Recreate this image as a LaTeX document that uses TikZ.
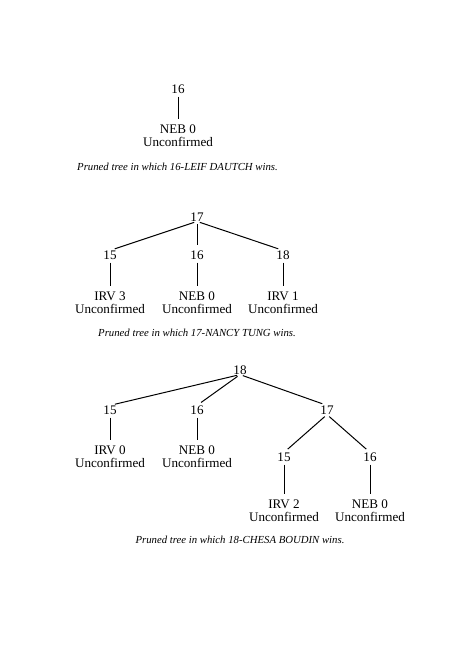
\documentclass[tikz,border=0pt]{standalone}
\usepackage{fontspec}
\setmainfont{Liberation Serif}
\begin{document}
\begin{tikzpicture}[x=1pt,y=-1pt,
  lbl/.style={inner sep=0pt,anchor=base,text height=8.8pt,text depth=0pt,font=\fontsize{13.1}{15}\selectfont},
  captext/.style={inner sep=0pt,anchor=base,font=\fontsize{10.75}{13}\selectfont\itshape},
  edge/.style={line width=1pt,shorten <=3pt,shorten >=5pt}]
\useasboundingbox (0,0) rectangle (466,661);
% Tree 1
\node[lbl] (a) at (178,93.4) {16};
\node[lbl] (a1) at (178,133.4) {NEB 0};
\node[lbl] (a1u) at (178,146.4) {Unconfirmed};
\draw[edge] (a.south) -- (a1.north);
\node[captext] (ca) at (177.5,170.5) {Pruned tree in which 16-LEIF DAUTCH wins.};
% Tree 2
\node[lbl] (b) at (197,221.2) {17};
\node[lbl] (b1) at (110,259.4) {15};
\node[lbl] (b2) at (197,259.4) {16};
\node[lbl] (b3) at (283,259.4) {18};
\node[lbl] (b1l) at (110,300.4) {IRV 3};
\node[lbl] (b2l) at (197,300.4) {NEB 0};
\node[lbl] (b3l) at (283,300.4) {IRV 1};
\node[lbl] (b1u) at (110,313.4) {Unconfirmed};
\node[lbl] (b2u) at (197,313.4) {Unconfirmed};
\node[lbl] (b3u) at (283,313.4) {Unconfirmed};
\draw[edge] (b.south) -- (b1.north);
\draw[edge] (b.south) -- (b2.north);
\draw[edge] (b.south) -- (b3.north);
\draw[edge] (b1.south) -- (b1l.north);
\draw[edge] (b2.south) -- (b2l.north);
\draw[edge] (b3.south) -- (b3l.north);
\node[captext] (cb) at (197,336.5) {Pruned tree in which 17-NANCY TUNG wins.};
% Tree 3
\node[lbl] (c) at (240,374.4) {18};
\node[lbl] (c1) at (110,414.4) {15};
\node[lbl] (c2) at (197,414.4) {16};
\node[lbl] (c3) at (327,414.4) {17};
\node[lbl] (c1l) at (110,454.4) {IRV 0};
\node[lbl] (c2l) at (197,454.4) {NEB 0};
\node[lbl] (c1u) at (110,467.4) {Unconfirmed};
\node[lbl] (c2u) at (197,467.4) {Unconfirmed};
\node[lbl] (c31) at (284,461.4) {15};
\node[lbl] (c32) at (370,461.4) {16};
\node[lbl] (c31l) at (284,508.2) {IRV 2};
\node[lbl] (c32l) at (370,508.2) {NEB 0};
\node[lbl] (c31u) at (284,521) {Unconfirmed};
\node[lbl] (c32u) at (370,521) {Unconfirmed};
\draw[edge] (c.south) -- (c1.north);
\draw[edge] (c.south) -- (c2.north);
\draw[edge] (c.south) -- (c3.north);
\draw[edge] (c1.south) -- (c1l.north);
\draw[edge] (c2.south) -- (c2l.north);
\draw[edge] (c3.south) -- (c31.north);
\draw[edge] (c3.south) -- (c32.north);
\draw[edge] (c31.south) -- (c31l.north);
\draw[edge] (c32.south) -- (c32l.north);
\node[captext] (cc) at (240,543.5) {Pruned tree in which 18-CHESA BOUDIN wins.};
\end{tikzpicture}
\end{document}
